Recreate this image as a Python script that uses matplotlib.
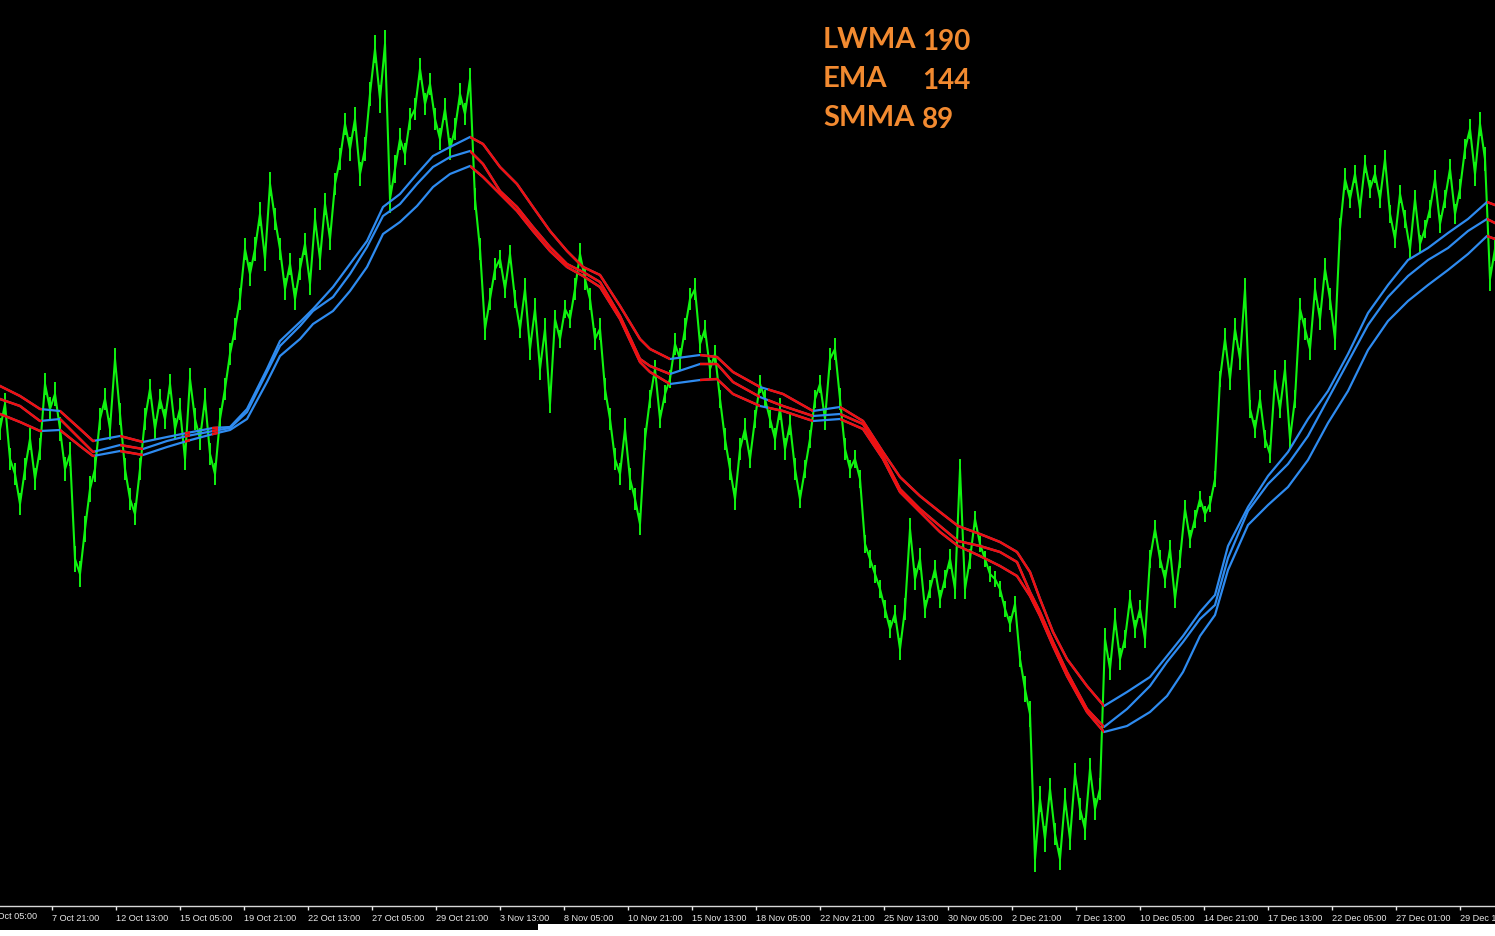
import numpy as np
import matplotlib
matplotlib.use("Agg")
import matplotlib.pyplot as plt
from matplotlib.patches import Rectangle
from matplotlib.path import Path

# ---------------- data ----------------
# price (close) sampled every 5 bars, bar index 0..1495
price_x = np.arange(0, 1500, 5)
price = [
    477, 502, 447, 432, 402, 437, 467, 427, 457, 522, 497, 512, 477, 437, 452, 347, 332, 377, 417, 437,
    487, 507, 477, 547, 492, 437, 407, 392, 437, 487, 517, 477, 507, 487, 522, 477, 497, 447, 527, 487,
    467, 507, 452, 432, 487, 517, 552, 577, 607, 657, 632, 657, 692, 647, 722, 687, 657, 617, 642, 607,
    637, 662, 622, 687, 647, 702, 667, 722, 747, 782, 757, 787, 732, 757, 812, 857, 807, 862, 707, 737,
    767, 752, 787, 797, 837, 802, 822, 787, 767, 797, 757, 777, 812, 792, 827, 707, 657, 577, 607, 637,
    647, 617, 652, 607, 577, 617, 557, 597, 537, 577, 502, 587, 567, 597, 587, 617, 652, 627, 607, 567,
    577, 517, 487, 447, 432, 477, 427, 407, 382, 467, 507, 537, 487, 512, 527, 562, 547, 577, 607, 617,
    562, 577, 537, 552, 507, 467, 437, 407, 457, 477, 447, 487, 522, 507, 487, 467, 497, 457, 482, 437,
    407, 437, 467, 507, 522, 487, 547, 557, 507, 457, 437, 447, 427, 362, 347, 332, 317, 297, 277, 292,
    257, 297, 377, 327, 347, 297, 317, 337, 307, 327, 347, 317, 437, 317, 347, 387, 362, 347, 332, 327,
    317, 297, 282, 302, 247, 217, 192, 47, 107, 67, 117, 72, 47, 107, 67, 132, 97, 77, 137, 97,
    117, 267, 237, 287, 247, 267, 307, 277, 297, 267, 347, 377, 347, 327, 357, 307, 347, 397, 367, 387,
    407, 392, 402, 427, 527, 567, 527, 577, 547, 617, 497, 477, 507, 467, 452, 527, 497, 537, 467, 507,
    597, 577, 557, 617, 587, 637, 607, 567, 677, 727, 707, 732, 697, 742, 717, 732, 707, 747, 692, 667,
    712, 687, 657, 707, 662, 677, 697, 727, 682, 707, 737, 692, 717, 757, 777, 732, 782, 747, 627, 657,
]
# typical high-low spread of the bars, one value per block of 25 bars
bar_range = [
    22, 22, 24, 26, 22, 22, 20, 22, 22, 22, 24, 22, 22, 22, 24, 28, 22, 22, 22, 22,
    18, 22, 18, 22, 22, 22, 18, 22, 18, 22, 18, 22, 18, 22, 18, 18, 22, 18, 20, 16,
    16, 26, 22, 22, 22, 18, 18, 18, 16, 22, 18, 18, 22, 22, 18, 18, 18, 18, 20, 24,
]

# moving averages (upper / middle / lower line), read at these bar indices
ma_x = [0, 20, 40, 60, 80, 93, 120, 143, 167, 187, 213, 230, 247, 267, 280, 300, 313, 333, 350, 367,
        383, 400, 417, 433, 450, 470, 483, 500, 517, 533, 550, 567, 583, 600, 620, 640, 650, 670, 700, 717,
        733, 760, 783, 813, 840, 863, 883, 900, 920, 940, 958, 980, 1000, 1017, 1030, 1040, 1053, 1067, 1087, 1104,
        1127, 1150, 1167, 1183, 1200, 1215, 1228, 1248, 1268, 1288, 1308, 1328, 1348, 1368, 1388, 1408, 1428, 1448, 1468, 1487,
        1495]
ma_upper = [520, 510, 497, 495, 477, 465, 470, 464, 469, 473, 478, 479, 497, 537, 565, 584, 597, 619, 642, 665,
            699, 712, 732, 750, 759, 769, 762, 739, 722, 699, 675, 655, 639, 631, 600, 567, 557, 547, 551, 549,
            534, 519, 512, 495, 499, 485, 454, 429, 410, 394, 380, 372, 364, 354, 334, 307, 274, 247, 220, 200,
            214, 229, 250, 270, 294, 311, 360, 399, 430, 454, 487, 515, 552, 593, 621, 646, 658, 673, 687, 704,
            701]
ma_middle = [507, 500, 485, 487, 467, 454, 461, 457, 465, 470, 475, 478, 494, 534, 560, 580, 595, 609, 632, 659,
             690, 702, 722, 739, 749, 755, 742, 715, 699, 679, 659, 642, 634, 624, 590, 547, 540, 532, 542, 542,
             524, 509, 500, 490, 492, 482, 450, 417, 397, 380, 365, 360, 354, 344, 314, 294, 264, 234, 197, 179,
             197, 220, 244, 264, 287, 301, 348, 395, 422, 442, 470, 507, 544, 581, 609, 630, 646, 658, 675, 687,
             683]
ma_lower = [492, 484, 475, 476, 460, 450, 455, 451, 459, 465, 472, 476, 487, 524, 550, 567, 582, 595, 615, 639,
            672, 684, 700, 719, 732, 740, 729, 712, 695, 675, 655, 639, 630, 619, 587, 544, 534, 522, 526, 527,
            512, 500, 495, 485, 487, 477, 447, 414, 394, 374, 360, 350, 340, 330, 310, 290, 260, 230, 194, 174,
            180, 194, 210, 234, 270, 291, 336, 381, 401, 419, 446, 483, 515, 556, 585, 605, 621, 636, 652, 670,
            667]

# spans (in bars) where the averages are coloured as falling
down_spans = [(0, 42), (60, 95), (120, 143), (185, 190), (212, 218), (470, 670), (700, 760),
              (768, 813), (840, 1104), (1487, 1495)]

tick_pos = [52 + 64 * k for k in range(23)]
tick_labels = ["7 Oct 21:00", "12 Oct 13:00", "15 Oct 05:00", "19 Oct 21:00", "22 Oct 13:00",
               "27 Oct 05:00", "29 Oct 21:00", "3 Nov 13:00", "8 Nov 05:00", "10 Nov 21:00",
               "15 Nov 13:00", "18 Nov 05:00", "22 Nov 21:00", "25 Nov 13:00", "30 Nov 05:00",
               "2 Dec 21:00", "7 Dec 13:00", "10 Dec 05:00", "14 Dec 21:00", "17 Dec 13:00",
               "22 Dec 05:00", "27 Dec 01:00", "29 Dec 17:00"]
first_label = "3 Oct 05:00"

legend_names = ["LWMA", "EMA", "SMMA"]
legend_periods = ["190", "144", "89"]

# ---------------- style ----------------
BG = "black"
GREEN = "#10F410"
RED = "#F01010"
BLUE = "#2E8BF0"
ORANGE = "#F28A30"

W, H = 1495, 937
fig = plt.figure(figsize=(W / 100, H / 100), dpi=100, facecolor=BG)
ax_bottom_px = 907
ax = fig.add_axes([0, (H - ax_bottom_px) / H, 1, ax_bottom_px / H])
ax.set_facecolor(BG)
ax.set_xlim(0, 1495)
ax.set_ylim(0, 907)
ax.set_yticks([])
for s in ["top", "left", "right"]:
    ax.spines[s].set_visible(False)
ax.spines["bottom"].set_color("#d8d8d8")
ax.spines["bottom"].set_linewidth(1.0)

# price: bars (high-low) plus close line
price_arr = np.asarray(price, dtype=float)
rng = np.repeat(np.asarray(bar_range, dtype=float), 5)[: len(price_arr)]
ax.vlines(price_x, price_arr - rng / 2, price_arr + rng / 2, color=GREEN, lw=1.4, zorder=2)
ax.plot(price_x, price_arr, color=GREEN, lw=1.5, zorder=2)

# moving averages: blue everywhere, red overlay clipped to falling spans
verts, codes = [], []
for a, b in down_spans:
    verts += [(a, -10), (b, -10), (b, 2000), (a, 2000), (a, -10)]
    codes += [Path.MOVETO, Path.LINETO, Path.LINETO, Path.LINETO, Path.CLOSEPOLY]
clip_path = Path(verts, codes)
for ys in (ma_upper, ma_middle, ma_lower):
    ax.plot(ma_x, ys, color=BLUE, lw=1.6, zorder=3)
    ln, = ax.plot(ma_x, ys, color=RED, lw=1.8, zorder=4)
    ln.set_clip_path(clip_path, ax.transData)

# x ticks
ax.set_xticks(tick_pos)
ax.set_xticklabels(tick_labels)
ax.tick_params(axis="x", colors="#e8e8e8", length=3, width=1, direction="out", pad=2,
               labelsize=6.6)
for lab in ax.get_xticklabels():
    lab.set_horizontalalignment("left")
    lab.set_fontfamily("Liberation Sans")
ax.text(-12 + 2, -5, first_label, transform=ax.transData, color="#e8e8e8", fontsize=6.6,
        fontfamily="Liberation Sans", ha="left", va="top", clip_on=False)

# legend text
for i, (n, p) in enumerate(zip(legend_names, legend_periods)):
    ypx = 40 + 39 * i
    fig.text(823 / W, 1 - ypx / H, n, color=ORANGE, fontsize=21, fontfamily="Lato",
             fontweight="bold", ha="left", va="center")
    fig.text(922 / W, 1 - (ypx + 2) / H, p, color=ORANGE, fontsize=20, fontfamily="Lato",
             fontweight="bold", ha="left", va="center")

# bottom strip (scroll area of terminal)
fig.patches.append(Rectangle((538 / W, 0), 1 - 538 / W, 12 / H, transform=fig.transFigure,
                             facecolor="white", edgecolor="none", zorder=0))
fig.patches.append(Rectangle((0, 0), 538 / W, 6 / H, transform=fig.transFigure,
                             facecolor="white", edgecolor="none", zorder=0))

fig.savefig("out.png", dpi=100, facecolor=BG)
